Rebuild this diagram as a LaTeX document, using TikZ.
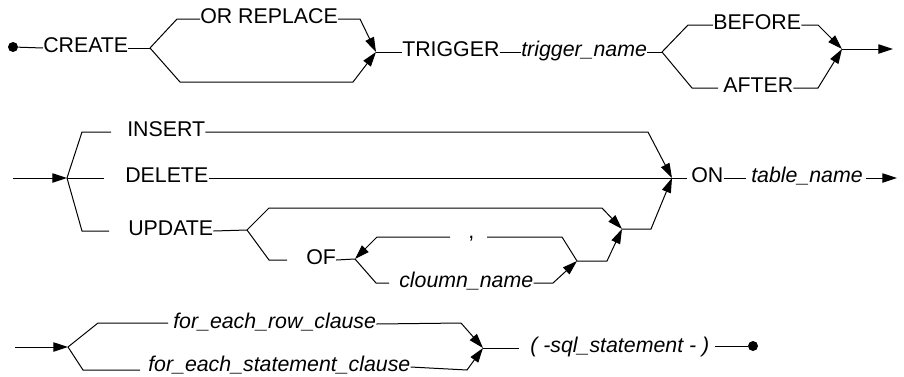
\documentclass[tikz,border=0pt]{standalone}
\usepackage{fontspec}
\setmainfont{Liberation Sans}
\usetikzlibrary{arrows.meta}
\begin{document}
\begin{tikzpicture}[x=0.75pt,y=-0.75pt,
 ln/.style={line width=0.75pt},
 arr/.style={ln,-{Triangle[length=11pt,width=7pt]}},
 kw/.style={inner sep=0pt, anchor=west, text height=0.716em, text depth=0pt, font=\fontsize{16pt}{18pt}\selectfont},
 nt/.style={kw, font=\fontsize{16pt}{18pt}\selectfont\itshape},
 dotnode/.style={circle, fill, inner sep=0pt, minimum size=7.5pt}]
\useasboundingbox (0,0) rectangle (904,376);

% ---------- Row 1 ----------
\node[dotnode] (d1) at (13,47) {};
\node[kw] (create) at (43,48) {CREATE};
\coordinate (b1) at (150,48);
\node[kw] (orrep) at (200,19) {OR REPLACE};
\coordinate (m1) at (376,52);
\node[kw] (trigger) at (402,52) {TRIGGER};
\node[nt] (tname) at (521,52) {trigger\_name};
\coordinate (b2) at (662,52);
\node[kw] (before) at (713,25) {BEFORE};
\node[kw] (after) at (723,88) {AFTER};
\coordinate (m2) at (842,49);
\coordinate (e1) at (893,49);

\draw[ln] (d1) -- (create.west);
\draw[ln] (create.east) -- (b1);
\draw[ln] (b1) -- (177,19) -- (orrep.west);
\draw[arr] (orrep.east) -- (360,19) -- (m1);
\draw[arr] (b1) -- (180,82) -- (353,82) -- (m1);
\draw[ln] (m1) -- (trigger.west);
\draw[ln] (trigger.east) -- (tname.west);
\draw[ln] (tname.east) -- (b2);
\draw[ln] (b2) -- (688,25) -- (before.west);
\draw[arr] (before.east) -- (818,25) -- (m2);
\draw[ln] (b2) -- (692,88) -- (718,88);
\draw[arr] (after.east) -- (818,88) -- (m2);
\draw[arr] (m2) -- (e1);

% ---------- Row 2 ----------
\coordinate (s2) at (13,178);
\coordinate (b3) at (67,178);
\node[kw] (insert) at (127,132) {INSERT};
\node[kw] (delete) at (125,178) {DELETE};
\node[kw] (update) at (128,231) {UPDATE};
\coordinate (b4) at (247,230);
\node[kw] (of) at (306,260) {OF};
\coordinate (b5) at (355,259);
\node[kw] (comma) at (468,234) {,};
\node[nt] (col) at (399,283) {cloumn\_name};
\coordinate (m5) at (577,261);
\coordinate (m4) at (622,229);
\coordinate (m3) at (672,178);
\node[kw] (on) at (691,178) {ON};
\node[nt] (tabname) at (751,178) {table\_name};
\coordinate (e2) at (897,178);

\draw[arr] (s2) -- (b3);
\draw[ln] (b3) -- (82,132) -- (111,132);
\draw[arr] (insert.east) -- (648,132) -- (m3);
\draw[ln] (b3) -- (104,178);
\draw[ln] (delete.east) -- (m3);
\draw[ln] (b3) -- (82,231) -- (109,231);
\draw[ln] (update.east) -- (b4);
\draw[arr] (b4) -- (269,208) -- (602,208) -- (m4);
\draw[ln] (b4) -- (269,260) -- (287,260);
\draw[ln] (of.east) -- (b5);
\draw[ln] (m5) -- (562,237) -- (487,237);
\draw[arr] (450,237) -- (377,237) -- (b5);
\draw[ln] (b5) -- (376,283) -- (389,283);
\draw[arr] (col.east) -- (553,283) -- (m5);
\draw[arr] (m5) -- (607,261) -- (m4);
\draw[arr] (m4) -- (651,229) -- (m3);
\draw[ln] (m3) -- (687,178);
\draw[ln] (on.east) -- (746,178);
\draw[arr] (866,178) -- (e2);

% ---------- Row 3 ----------
\coordinate (s3) at (15,347);
\coordinate (b6) at (68,347);
\node[nt] (rowc) at (173,324) {for\_each\_row\_clause};
\node[nt] (stmtc) at (148,367) {for\_each\_statement\_clause};
\coordinate (m6) at (483,348);
\node[nt] (sql) at (530,348) {( -sql\_statement - )};
\node[dotnode] (d2) at (753,346) {};

\draw[arr] (s3) -- (b6);
\draw[ln] (b6) -- (98,323) -- (168,323);
\draw[arr] (rowc.east) -- (461,323) -- (m6);
\draw[ln] (b6) -- (83,370) -- (140,370);
\draw[arr] (stmtc.east) -- (467,370) -- (m6);
\draw[ln] (m6) -- (519,348);
\draw[ln] (715,346) -- (d2);
\end{tikzpicture}
\end{document}
